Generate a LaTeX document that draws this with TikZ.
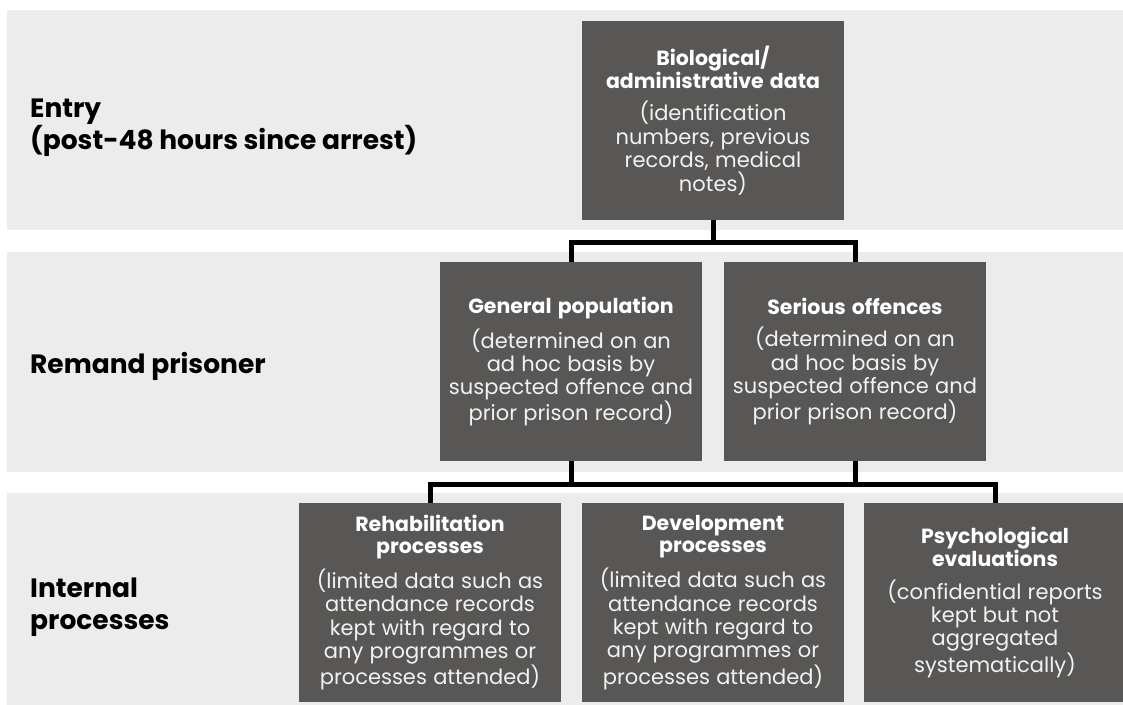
\documentclass[tikz,border=0pt]{standalone}
\usepackage{fontspec}
\setmainfont{Poppins}
\usepackage{tikz}
\usetikzlibrary{positioning}
\definecolor{bandgrey}{HTML}{ECECEC}
\definecolor{boxgrey}{HTML}{585755}
\tikzstyle{band}=[fill=bandgrey, draw=none]
\tikzstyle{box}=[fill=boxgrey, text=white, minimum width=262pt, minimum height=199pt, text width=250pt, align=center, inner sep=0pt]
\tikzstyle{rowlabel}=[anchor=west, align=left, inner sep=0pt, font=\fontsize{26.5}{32}\selectfont\bfseries]
\tikzstyle{conn}=[line width=5pt, draw=black]
\newcommand{\cellbody}[2]{{\fontsize{20.5}{22}\selectfont\bfseries\spaceskip=0.3em #1\par}\vspace{9pt}{\fontsize{21}{23.4}\selectfont\spaceskip=0.3em\color[HTML]{F2F2F2} #2\par}}

\begin{document}
\begin{tikzpicture}[x=1pt, y=-1pt]
\useasboundingbox (0,0) rectangle (1123,704);
% the three bands
\fill[band] (7,10) rectangle (1130,230);
\fill[band] (7,252) rectangle (1130,472);
\fill[band] (7,493) rectangle (1130,710);
% the row labels
\node[rowlabel] (entry) at (30,128) {Entry\\(post-48 hours since arrest)};
\node[rowlabel] (remand) at (30,366) {Remand prisoner};
\node[rowlabel] (internal) at (30,607) {Internal\\processes};
% the top box
\node[box] (bio) at (713,120.5) {\cellbody{Biological/\\administrative data}{(identification\\numbers, previous\\records, medical\\notes)}};
% the middle boxes
\node[box] (gen) at (571,361.5) {\cellbody{General population}{(determined on an\\ad hoc basis by\\suspected offence and\\prior prison record)}};
\node[box] (ser) at (855,361.5) {\cellbody{Serious offences}{(determined on an\\ad hoc basis by\\suspected offence and\\prior prison record)}};
% the bottom boxes
\node[box] (rehab) at (430,602.5) {\cellbody{Rehabilitation\\processes}{(limited data such as\\attendance records\\kept with regard to\\any programmes or\\processes attended)}};
\node[box] (dev) at (713,602.5) {\cellbody{Development\\processes}{(limited data such as\\attendance records\\kept with regard to\\any programmes or\\processes attended)}};
\node[box] (psych) at (995,602.5) {\cellbody{Psychological\\evaluations}{(confidential reports\\kept but not\\aggregated\\systematically)}};
%
% the connectors
\coordinate (bar1) at (713,242.5);
\coordinate (bar2) at (713,484.5);
\draw[conn] (bio.south) -- (bar1);
\draw[conn] (gen.north) |- (bar1) -| (ser.north);
\draw[conn] (gen.south) -- (gen.south |- bar2);
\draw[conn] (ser.south) -- (ser.south |- bar2);
\draw[conn] (rehab.north) |- (bar2) -| (psych.north);
\end{tikzpicture}
\end{document}
